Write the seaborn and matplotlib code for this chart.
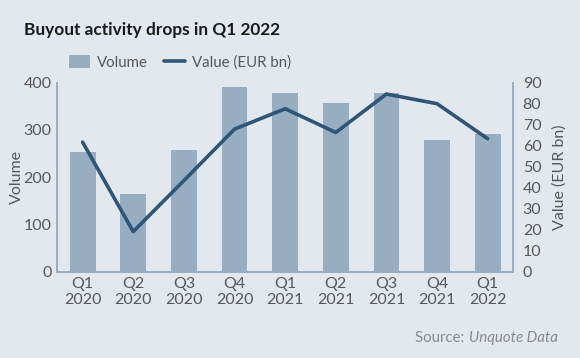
import numpy as np
import pandas as pd
import matplotlib
matplotlib.use('Agg')
import matplotlib.pyplot as plt
import seaborn as sns
from matplotlib.patches import Patch
from matplotlib.lines import Line2D

# Data
quarters = ['Q1\n2020', 'Q2\n2020', 'Q3\n2020', 'Q4\n2020', 'Q1\n2021',
            'Q2\n2021', 'Q3\n2021', 'Q4\n2021', 'Q1\n2022']
volume = [254, 165, 257, 391, 379, 356, 379, 278, 292]
value_eur_bn = [61.7, 19.1, 43.4, 67.9, 77.6, 66.3, 84.6, 80.0, 63.3]

bg = '#E3E7EE'
bar_color = '#97AEC2'
line_color = '#2E5677'
spine_color = '#97AEC2'
text_color = '#585858'
src_color = '#8A8A8A'
fw = 'normal'

sns.set_theme(style='white')
plt.rcParams['font.family'] = ['Lato', 'DejaVu Sans']

df = pd.DataFrame({'quarter': quarters, 'volume': volume,
                   'value': value_eur_bn, 'pos': np.arange(len(quarters))})

fig = plt.figure(figsize=(5.8, 3.58), dpi=100, facecolor=bg)
ax = fig.add_axes([0.0988, 0.241, 0.7857, 0.528])
ax.set_facecolor(bg)

sns.barplot(data=df, x='quarter', y='volume', color=bar_color, width=0.51,
            saturation=1, linewidth=0, edgecolor='none', ax=ax)
ax.set_xlim(-0.5, 8.5)
ax.set_ylim(0, 400)
ax.set_yticks([0, 100, 200, 300, 400])

ax2 = ax.twinx()
sns.lineplot(data=df, x='pos', y='value', color=line_color, linewidth=2.6, ax=ax2)
ax2.set_ylim(0, 90)
ax2.set_yticks(range(0, 91, 10))
ax2.set_xlim(-0.5, 8.5)

for a in (ax, ax2):
    a.spines['top'].set_visible(False)
    for s in ('left', 'right', 'bottom'):
        a.spines[s].set_color(spine_color)
        a.spines[s].set_linewidth(1.3)
    a.tick_params(length=0, labelsize=11.5, labelcolor=text_color)
    for lab in a.get_yticklabels() + a.get_xticklabels():
        lab.set_fontweight(fw)

ax.tick_params(axis='y', pad=4)
ax2.tick_params(axis='y', pad=7)
ax.tick_params(axis='x', pad=4)
ax.set_xticks(range(len(quarters)))
ax.set_xticklabels(quarters, fontweight=fw, linespacing=1.15)

ax.set_xlabel('')
ax.set_ylabel('Volume', fontsize=11.5, color=text_color, fontweight=fw, labelpad=0)
ax2.set_ylabel('Value (EUR bn)', fontsize=11.5, color=text_color, fontweight=fw, labelpad=8)

fig.text(0.041, 0.902, 'Buyout activity drops in Q1 2022', fontsize=12.4,
         fontweight='bold', color='#1a1a1a', ha='left', va='baseline')

handles = [Patch(facecolor=bar_color, edgecolor='none'),
           Line2D([0], [0], color=line_color, linewidth=2.6)]
fig.legend(handles, ['Volume', 'Value (EUR bn)'], loc='center left',
           bbox_to_anchor=(0.119, 0.826), ncol=2, frameon=False,
           prop={'size': 10.8, 'weight': fw}, labelcolor=text_color,
           handlelength=1.4, handleheight=0.95, handletextpad=0.45,
           columnspacing=1.1, borderaxespad=0, borderpad=0)

src = fig.text(0.961, 0.045, 'Unquote Data', fontsize=10.8, color=src_color,
               fontstyle='italic', fontweight=fw, ha='right', va='baseline')
fig.canvas.draw()
bb = src.get_window_extent()
fig.text(bb.x0 / fig.bbox.width, 0.045, 'Source: ', fontsize=10.8, color=src_color,
         fontweight=fw, ha='right', va='baseline')

fig.savefig('out.png', dpi=100, facecolor=bg)
